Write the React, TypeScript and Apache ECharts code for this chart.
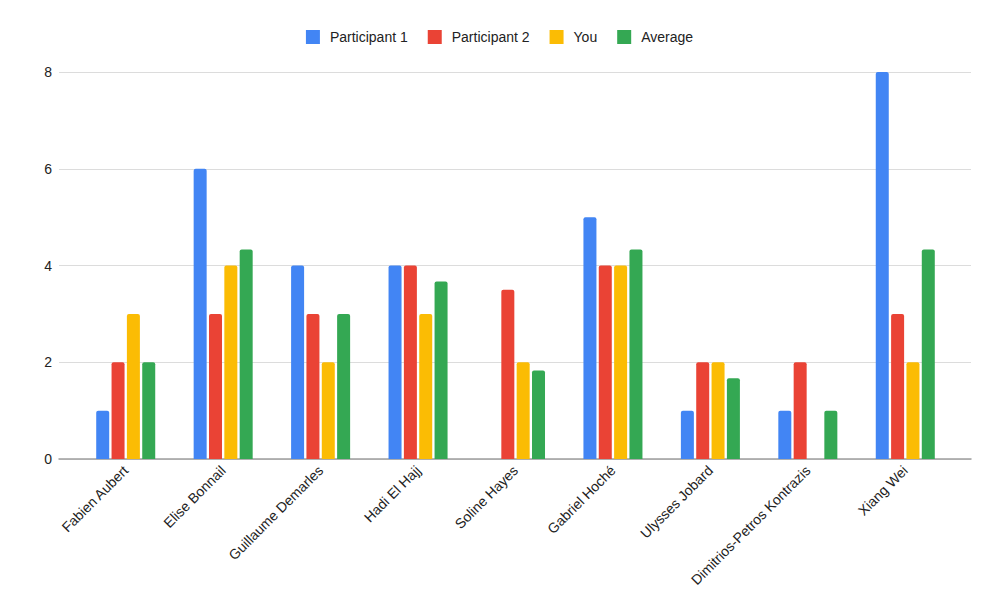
import React, { useEffect, useRef } from "react";
import * as echarts from "echarts";

const categories = [
  "Fabien Aubert",
  "Elise Bonnail",
  "Guillaume Demarles",
  "Hadi El Hajj",
  "Soline Hayes",
  "Gabriel Hoché",
  "Ulysses Jobard",
  "Dimitrios-Petros Kontrazis",
  "Xiang Wei",
];
const participant1 = [1, 6, 4, 4, null, 5, 1, 1, 8];
const participant2 = [2, 3, 3, 4, 3.5, 4, 2, 2, 3];
const you = [3, 4, 2, 3, 2, 4, 2, null, 2];
const average = [2, 4.33, 3, 3.67, 1.83, 4.33, 1.67, 1, 4.33];
const yTicks = { min: 0, max: 8, interval: 2 };

const seriesDefs = [
  { name: "Participant 1", data: participant1, color: "#4285F4" },
  { name: "Participant 2", data: participant2, color: "#EA4335" },
  { name: "You", data: you, color: "#FBBC04" },
  { name: "Average", data: average, color: "#34A853" },
];

export default function App() {
  const ref = useRef<HTMLDivElement>(null);
  useEffect(() => {
    document.body.style.margin = "0";
    if (!ref.current) return;
    const chart = echarts.init(ref.current, undefined, { renderer: "svg" });
    const font = "'Liberation Sans', Arial, sans-serif";
    chart.setOption({
      animation: false,
      textStyle: { fontFamily: font },
      legend: {
        top: 25,
        left: "center",
        itemWidth: 14,
        itemHeight: 14,
        itemGap: 20,
        icon: "rect",
        textStyle: { fontSize: 14, color: "#222", fontFamily: font, padding: [0, 0, 0, 5] },
        data: seriesDefs.map((s) => s.name),
      },
      grid: [
        { left: 59, right: 28, top: 72, bottom: 157 },
        { left: 77, right: 45, top: 72, bottom: 157 },
      ],
      xAxis: [
        {
          gridIndex: 0,
          type: "value",
          min: 0,
          max: 1,
          axisLine: { show: true, lineStyle: { color: "#9e9e9e", width: 1.5 } },
          axisTick: { show: false },
          axisLabel: { show: false },
          splitLine: { show: false },
        },
        {
          gridIndex: 1,
          type: "category",
          data: categories,
          axisLine: { show: false },
          axisTick: { show: false },
          axisLabel: {
            interval: 0,
            rotate: 45,
            margin: 9,
            fontSize: 14,
            color: "#222",
            fontFamily: font,
          },
        },
      ],
      yAxis: [
        {
          gridIndex: 0,
          type: "value",
          ...yTicks,
          axisLine: { show: false },
          axisTick: { show: false },
          axisLabel: { fontSize: 14, color: "#222", margin: 7, fontFamily: font },
          splitLine: { lineStyle: { color: "#dcdcdc", width: 1 } },
        },
        {
          gridIndex: 1,
          type: "value",
          ...yTicks,
          show: false,
          splitLine: { show: false },
        },
      ],
      series: seriesDefs.map((s) => ({
        name: s.name,
        type: "bar",
        xAxisIndex: 1,
        yAxisIndex: 1,
        data: s.data,
        barWidth: 13,
        barGap: "18%",
        itemStyle: { color: s.color, borderRadius: [2, 2, 0, 0] },
      })),
    });
    return () => chart.dispose();
  }, []);
  return <div ref={ref} style={{ width: 999, height: 616 }} />;
}
